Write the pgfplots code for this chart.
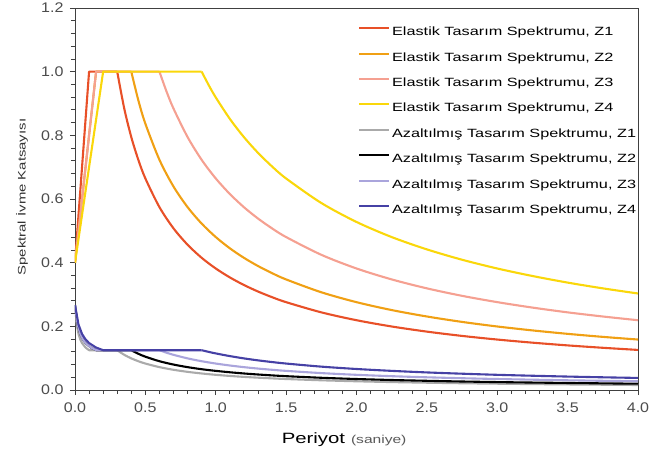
\documentclass[border=0pt]{standalone}
\usepackage{fontspec}
\setmainfont{Liberation Sans}
\newfontfamily\lfont{Liberation Sans}[FakeStretch=1.36]
\newfontfamily\tfont{Liberation Sans}[FakeStretch=1.15]
\usepackage{pgfplots}
\pgfplotsset{compat=1.18}
\definecolor{ez1}{RGB}{232,80,40}
\definecolor{ez2}{RGB}{240,160,20}
\definecolor{ez3}{RGB}{245,160,145}
\definecolor{ez4}{RGB}{250,215,10}
\definecolor{rz1}{RGB}{170,170,170}
\definecolor{rz2}{RGB}{0,0,0}
\definecolor{rz3}{RGB}{170,165,220}
\definecolor{rz4}{RGB}{70,65,165}
\begin{document}
\begin{tikzpicture}
\useasboundingbox (-75bp,-67bp) rectangle (596bp,390bp);
\begin{axis}[
  scale only axis, width=563bp, height=382bp,
  xmin=0, xmax=4, ymin=0, ymax=1.2,
  xtick={0,0.5,1,1.5,2,2.5,3,3.5,4},
  ytick={0,0.2,0.4,0.6,0.8,1.0,1.2},
  minor x tick num=4, minor y tick num=4,
  xtick pos=bottom, ytick pos=left,
  tick align=outside, major tick length=5bp, minor tick length=4bp,
  axis line style={draw=black!75, line width=0.9bp},
  every tick/.style={black!75, line width=0.8bp},
  every minor tick/.style={black!75, line width=0.8bp},
  ticklabel style={font=\tfont\fontsize{14}{14}\selectfont, text=black!70},
  /pgf/number format/fixed,
  /pgf/number format/fixed zerofill,
  /pgf/number format/precision=1,
  /pgf/number format/assume math mode=true,
  yticklabel style={xshift=-3bp},
  xticklabel style={yshift=-4bp},
  xlabel={{\lfont\fontsize{15}{15}\selectfont Periyot}\hspace{6bp}{\lfont\fontsize{11.5}{11.5}\selectfont\color{black!65}(saniye)}},
  xlabel style={at={(axis description cs:0.478,0)}, anchor=base, yshift=-53bp},
  ylabel={\lfont\fontsize{11}{11}\selectfont Spektral İvme Katsayısı},
  ylabel style={at={(axis description cs:-0.094,0.505)}, anchor=center, text=black!80},
  legend cell align=left,
  legend image code/.code={\draw[#1,line width=2bp] (0bp,4.3bp) -- (30bp,4.3bp);},
  legend style={draw=none, fill=none, at={(axis description cs:0.5025,0.951)}, anchor=north west,
    font=\lfont\fontsize{12}{12}\selectfont, inner sep=0bp, row sep=14.1bp,
    nodes={inner sep=0bp, text height=8.7bp, text depth=2.6bp},
    /tikz/every odd column/.append style={column sep=2bp}},
  every axis plot/.append style={line width=2.1bp, line join=round},
]
% Elastic Z1
\addplot[ez1, forget plot] coordinates {(0,0.4) (0.1,1) (0.3,1)};
\addplot[ez1, smooth] coordinates {(0.3,1) (0.35,0.8840) (0.4,0.7944) (0.45,0.7230) (0.5,0.6645) (0.6,0.5744) (0.7,0.5077) (0.8,0.4563) (0.9,0.4152) (1.0,0.3817) (1.1,0.3537) (1.2,0.3299) (1.3,0.3094) (1.4,0.2916) (1.5,0.2759) (1.75,0.2439) (2.0,0.2192) (2.25,0.1995) (2.5,0.1834) (2.75,0.1699) (3.0,0.1585) (3.25,0.1487) (3.5,0.1401) (3.75,0.1326) (4.0,0.1259)};
\addlegendentry{Elastik Tasarım Spektrumu, Z1}
% Elastic Z2
\addplot[ez2, forget plot] coordinates {(0,0.4) (0.15,1) (0.4,1)};
\addplot[ez2, smooth] coordinates {(0.4,1) (0.45,0.9101) (0.5,0.8365) (0.6,0.7231) (0.7,0.6391) (0.8,0.5744) (0.9,0.5227) (1.0,0.4805) (1.1,0.4452) (1.2,0.4153) (1.3,0.3895) (1.4,0.3671) (1.5,0.3473) (1.75,0.3070) (2.0,0.2759) (2.25,0.2511) (2.5,0.2309) (2.75,0.2139) (3.0,0.1995) (3.25,0.1872) (3.5,0.1764) (3.75,0.1669) (4.0,0.1585)};
\addlegendentry{Elastik Tasarım Spektrumu, Z2}
% Elastic Z3
\addplot[ez3, forget plot] coordinates {(0,0.4) (0.15,1) (0.6,1)};
\addplot[ez3, smooth] coordinates {(0.6,1) (0.65,0.9380) (0.7,0.8840) (0.8,0.7945) (0.9,0.7229) (1.0,0.6646) (1.1,0.6158) (1.2,0.5743) (1.3,0.5387) (1.4,0.5077) (1.5,0.4804) (1.75,0.4247) (2.0,0.3817) (2.25,0.3474) (2.5,0.3193) (2.75,0.2958) (3.0,0.2760) (3.25,0.2589) (3.5,0.2439) (3.75,0.2309) (4.0,0.2192)};
\addlegendentry{Elastik Tasarım Spektrumu, Z3}
% Elastic Z4
\addplot[ez4, forget plot] coordinates {(0,0.4) (0.2,1) (0.9,1)};
\addplot[ez4, smooth] coordinates {(0.9,1) (0.95,0.9577) (1.0,0.9192) (1.1,0.8518) (1.2,0.7945) (1.3,0.7451) (1.4,0.7022) (1.5,0.6644) (1.75,0.5874) (2.0,0.5279) (2.25,0.4804) (2.5,0.4417) (2.75,0.4092) (3.0,0.3817) (3.25,0.3581) (3.5,0.3374) (3.75,0.3193) (4.0,0.3032)};
\addlegendentry{Elastik Tasarım Spektrumu, Z4}
% Reduced Z1
\addplot[rz1, forget plot] coordinates {(0,0.2667) (0.0125,0.2054) (0.025,0.1760) (0.0375,0.1587) (0.05,0.1474) (0.075,0.1333) (0.1,0.125) (0.3,0.125)};
\addplot[rz1, smooth] coordinates {(0.3,0.125) (0.35,0.1105) (0.4,0.0993) (0.45,0.0904) (0.5,0.0831) (0.6,0.0718) (0.7,0.0635) (0.8,0.0570) (0.9,0.0519) (1.0,0.0477) (1.1,0.0442) (1.2,0.0412) (1.3,0.0387) (1.4,0.0365) (1.5,0.0345) (1.75,0.0305) (2.0,0.0274) (2.25,0.0249) (2.5,0.0229) (2.75,0.0212) (3.0,0.0198) (3.25,0.0186) (3.5,0.0175) (3.75,0.0166) (4.0,0.0157)};
\addlegendentry{Azaltılmış Tasarım Spektrumu, Z1}
% Reduced Z2
\addplot[rz2, forget plot] coordinates {(0,0.2667) (0.01875,0.2054) (0.0375,0.1760) (0.05625,0.1587) (0.075,0.1474) (0.1125,0.1333) (0.15,0.125) (0.4,0.125)};
\addplot[rz2, smooth] coordinates {(0.4,0.125) (0.45,0.1138) (0.5,0.1046) (0.6,0.0904) (0.7,0.0799) (0.8,0.0718) (0.9,0.0653) (1.0,0.0601) (1.1,0.0557) (1.2,0.0519) (1.3,0.0487) (1.4,0.0459) (1.5,0.0434) (1.75,0.0384) (2.0,0.0345) (2.25,0.0314) (2.5,0.0289) (2.75,0.0267) (3.0,0.0249) (3.25,0.0234) (3.5,0.0221) (3.75,0.0209) (4.0,0.0198)};
\addlegendentry{Azaltılmış Tasarım Spektrumu, Z2}
% Reduced Z3
\addplot[rz3, forget plot] coordinates {(0,0.2667) (0.01875,0.2054) (0.0375,0.1760) (0.05625,0.1587) (0.075,0.1474) (0.1125,0.1333) (0.15,0.125) (0.6,0.125)};
\addplot[rz3, smooth] coordinates {(0.6,0.125) (0.65,0.1173) (0.7,0.1105) (0.8,0.0993) (0.9,0.0904) (1.0,0.0831) (1.1,0.0770) (1.2,0.0718) (1.3,0.0673) (1.4,0.0635) (1.5,0.0601) (1.75,0.0531) (2.0,0.0477) (2.25,0.0434) (2.5,0.0399) (2.75,0.0370) (3.0,0.0345) (3.25,0.0324) (3.5,0.0305) (3.75,0.0289) (4.0,0.0274)};
\addlegendentry{Azaltılmış Tasarım Spektrumu, Z3}
% Reduced Z4
\addplot[rz4, forget plot] coordinates {(0,0.2667) (0.025,0.2054) (0.05,0.1760) (0.075,0.1587) (0.1,0.1474) (0.15,0.1333) (0.2,0.125) (0.9,0.125)};
\addplot[rz4, smooth] coordinates {(0.9,0.125) (0.95,0.1197) (1.0,0.1149) (1.1,0.1065) (1.2,0.0993) (1.3,0.0931) (1.4,0.0878) (1.5,0.0831) (1.75,0.0734) (2.0,0.0660) (2.25,0.0601) (2.5,0.0552) (2.75,0.0512) (3.0,0.0477) (3.25,0.0448) (3.5,0.0422) (3.75,0.0399) (4.0,0.0379)};
\addlegendentry{Azaltılmış Tasarım Spektrumu, Z4}
\end{axis}
\end{tikzpicture}
\end{document}
